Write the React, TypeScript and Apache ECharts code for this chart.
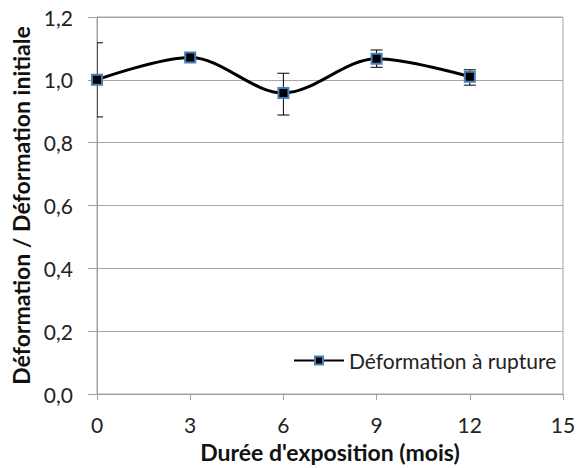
import React, { useEffect, useRef } from "react";
import * as echarts from "echarts";

const months = [0, 3, 6, 9, 12];
const ratio = [1.0, 1.071, 0.958, 1.067, 1.01];
const errLow = [0.882, 1.062, 0.888, 1.04, 0.983];
const errHigh = [1.118, 1.08, 1.021, 1.095, 1.032];
const seriesName = "Déformation à rupture";
const xTitle = "Durée d'exposition (mois)";
const yTitle = "Déformation / Déformation initiale";

const FONT = "Lato, 'Open Sans', sans-serif";

export default function App() {
  const ref = useRef<HTMLDivElement>(null);
  useEffect(() => {
    if (!ref.current) return;
    const chart = echarts.init(ref.current, null, { renderer: "svg" });
    const lineData = months.map((m, i) => [m, ratio[i]]);
    const errData = months.map((m, i) => [m, errLow[i], errHigh[i]]);
    chart.setOption({
      animation: false,
      backgroundColor: "#fff",
      textStyle: { fontFamily: FONT },
      grid: {
        left: 97,
        right: 20,
        top: 17,
        bottom: 72,
        show: true,
        borderColor: "#a6a6a6",
        borderWidth: 1,
      },
      legend: {
        show: true,
        left: 293,
        top: 350,
        itemWidth: 50,
        itemHeight: 10,
        itemGap: 4,
        padding: 0,
        data: [seriesName],
        textStyle: { fontFamily: FONT, fontSize: 21, color: "#222", padding: [0, 0, 0, 0] },
      },
      xAxis: {
        type: "value",
        min: 0,
        max: 15,
        interval: 3,
        name: xTitle,
        nameLocation: "middle",
        nameGap: 46,
        nameTextStyle: { fontFamily: FONT, fontSize: 23, fontWeight: "bold", color: "#111" },
        axisLine: { show: true, lineStyle: { color: "#a0a0a0", width: 1 } },
        axisTick: { show: true, length: 6, lineStyle: { color: "#a0a0a0" } },
        axisLabel: { fontFamily: FONT, fontSize: 21, color: "#222", margin: 20 },
        splitLine: { show: false },
      },
      yAxis: {
        type: "value",
        min: 0,
        max: 1.2,
        interval: 0.2,
        name: yTitle,
        nameLocation: "middle",
        nameRotate: 90,
        nameGap: 62,
        nameTextStyle: { fontFamily: FONT, fontSize: 23, fontWeight: "bold", color: "#111" },
        axisLine: { show: true, lineStyle: { color: "#a0a0a0", width: 1 } },
        axisTick: { show: true, length: 9, lineStyle: { color: "#a0a0a0" } },
        axisLabel: {
          fontFamily: FONT,
          fontSize: 21,
          color: "#222",
          margin: 24,
          formatter: (v: number) => v.toFixed(1).replace(".", ","),
        },
        splitLine: { show: true, lineStyle: { color: "#a6a6a6", width: 1 } },
      },
      series: [
        {
          type: "custom",
          name: "err",
          clip: true,
          z: 3,
          data: errData,
          encode: { x: 0, y: [1, 2] },
          renderItem: (params: any, api: any) => {
            const x = api.value(0);
            const lo = api.coord([x, api.value(1)]);
            const hi = api.coord([x, api.value(2)]);
            const w = 6;
            const style = { stroke: "#000", lineWidth: 1 };
            return {
              type: "group",
              children: [
                { type: "line", shape: { x1: lo[0], y1: lo[1], x2: hi[0], y2: hi[1] }, style },
                { type: "line", shape: { x1: hi[0] - w, y1: hi[1], x2: hi[0] + w, y2: hi[1] }, style },
                { type: "line", shape: { x1: lo[0] - w, y1: lo[1], x2: lo[0] + w, y2: lo[1] }, style },
              ],
            };
          },
        },
        {
          type: "line",
          name: seriesName,
          data: lineData,
          smooth: 0.33,
          z: 4,
          symbol: "rect",
          symbolSize: 10,
          lineStyle: { color: "#000", width: 3 },
          itemStyle: { color: "#000", borderColor: "#4a7ebb", borderWidth: 2 },
        },
      ],
    });
    return () => chart.dispose();
  }, []);
  return (
    <div
      ref={ref}
      style={{ position: "absolute", left: 0, top: 0, width: 583, height: 468 }}
    />
  );
}
